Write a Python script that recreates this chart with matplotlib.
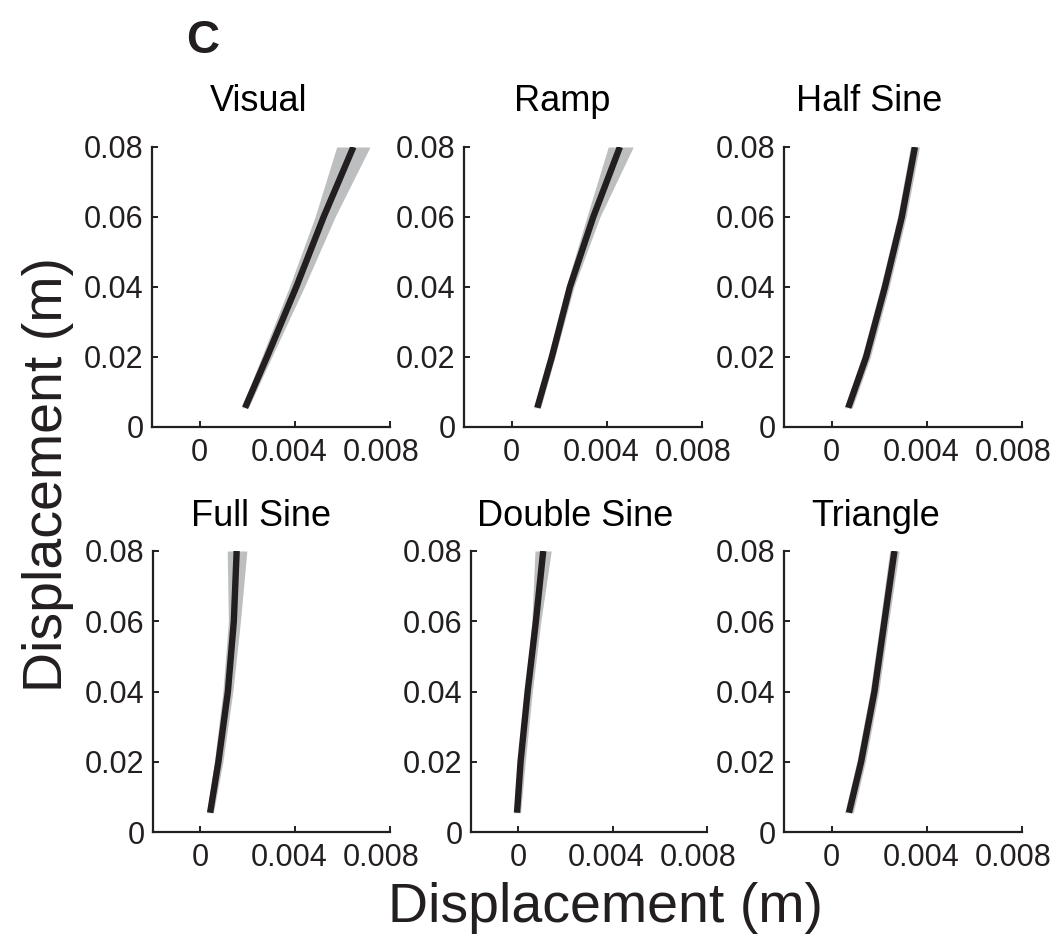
import matplotlib
matplotlib.use("Agg")
import matplotlib.pyplot as plt
import matplotlib.transforms as mtransforms

plt.rcParams['font.family'] = ['Liberation Sans', 'DejaVu Sans']

W, H = 1058, 951

titles = ["Visual", "Ramp", "Half Sine", "Full Sine", "Double Sine", "Triangle"]
y_vals = [0.0055, 0.02, 0.04, 0.06, 0.08]

mean_visual = [0.00191, 0.00283, 0.00406, 0.00521, 0.00646]
lo_visual = [0.00177, 0.00261, 0.00377, 0.00485, 0.00576]
hi_visual = [0.00205, 0.00303, 0.0044, 0.00569, 0.00716]

mean_ramp = [0.00108, 0.00169, 0.00245, 0.00343, 0.00455]
lo_ramp = [0.00094, 0.00154, 0.00229, 0.00316, 0.00406]
hi_ramp = [0.00122, 0.00182, 0.00262, 0.00371, 0.00511]

mean_half = [0.0007, 0.00145, 0.00224, 0.00295, 0.0035]
lo_half = [0.00053, 0.00127, 0.00206, 0.00277, 0.00331]
hi_half = [0.00087, 0.00163, 0.00242, 0.00313, 0.00369]

mean_full = [0.00041, 0.00076, 0.00116, 0.00141, 0.00153]
lo_full = [0.00027, 0.00059, 0.00095, 0.00118, 0.00113]
hi_full = [0.00055, 0.00095, 0.00137, 0.00169, 0.00196]

mean_double = [-0.00005, 0.0001, 0.0004, 0.00075, 0.00106]
lo_double = [-0.00018, 0.0, 0.0003, 0.00058, 0.00071]
hi_double = [0.0001, 0.0003, 0.0006, 0.00096, 0.0014]

mean_tri = [0.00073, 0.00124, 0.0018, 0.00222, 0.00264]
lo_tri = [0.00055, 0.00106, 0.00162, 0.00204, 0.00244]
hi_tri = [0.00091, 0.00142, 0.00198, 0.0024, 0.00284]

means = [mean_visual, mean_ramp, mean_half, mean_full, mean_double, mean_tri]
los = [lo_visual, lo_ramp, lo_half, lo_full, lo_double, lo_tri]
his = [hi_visual, hi_ramp, hi_half, hi_full, hi_double, hi_tri]

x_ticks = [0, 0.004, 0.008]
x_ticklabels = ["0", "0.004", "0.008"]
y_ticks = [0, 0.02, 0.04, 0.06, 0.08]
y_ticklabels = ["0", "0.02", "0.04", "0.06", "0.08"]

# panel boxes in pixels: left, right, top, bottom
boxes = [(152, 390, 147, 427), (464, 702, 147, 427), (784, 1022, 147, 427),
         (153, 390, 551, 832), (471, 707, 551, 832), (784, 1022, 551, 832)]
title_pos = [(259, 111), (562, 111), (869, 111), (261, 526), (575, 526), (876, 526)]
xlabel_shift_px = [0, -6, -9]

line_col = "#231f20"
band_col = "#bcbec0"

fig = plt.figure(figsize=(W / 100, H / 100), dpi=100)

def fx(px):
    return px / W

def fy(py):
    return 1 - py / H

for i in range(6):
    l, r, t, b = boxes[i]
    ax = fig.add_axes([fx(l), fy(b), fx(r) - fx(l), (b - t) / H])
    ax.fill_betweenx(y_vals, los[i], his[i], color=band_col, lw=0, zorder=1)
    ax.plot(means[i], y_vals, color=line_col, lw=4.6, solid_capstyle='butt',
            solid_joinstyle='round', zorder=2)
    ax.set_xlim(-0.002, 0.008)
    ax.set_ylim(0, 0.08)
    ax.set_xticks(x_ticks)
    ax.set_xticklabels(x_ticklabels)
    ax.set_yticks(y_ticks)
    ax.set_yticklabels(y_ticklabels)
    for s in ['top', 'right']:
        ax.spines[s].set_visible(False)
    for s in ['left', 'bottom']:
        ax.spines[s].set_linewidth(1.6)
        ax.spines[s].set_color(line_col)
        ax.spines[s].set_capstyle('projecting')
    ax.tick_params(direction='in', length=4, width=1.4, color=line_col,
                   labelsize=22, labelcolor=line_col)
    ax.tick_params(axis='x', pad=8)
    ax.tick_params(axis='y', pad=6)
    for lab, dx in zip(ax.get_xticklabels(), xlabel_shift_px):
        off = mtransforms.ScaledTranslation(dx / 100, 0, fig.dpi_scale_trans)
        lab.set_transform(lab.get_transform() + off)
    ax.patch.set_visible(False)
    tx, ty = title_pos[i]
    fig.text(fx(tx), fy(ty), titles[i], ha='center', va='baseline',
             fontsize=26, color='black')

fig.text(fx(186), fy(53), "C", ha='left', va='baseline', fontsize=33,
         fontweight='bold', color=line_col)
fig.text(fx(605), fy(908), "Displacement (m)", ha='center', va='center',
         fontsize=40, color=line_col)
fig.text(fx(48), fy(475), "Displacement (m)", ha='center', va='center',
         fontsize=40, rotation=90, color=line_col)

fig.savefig("out.png", dpi=100)
